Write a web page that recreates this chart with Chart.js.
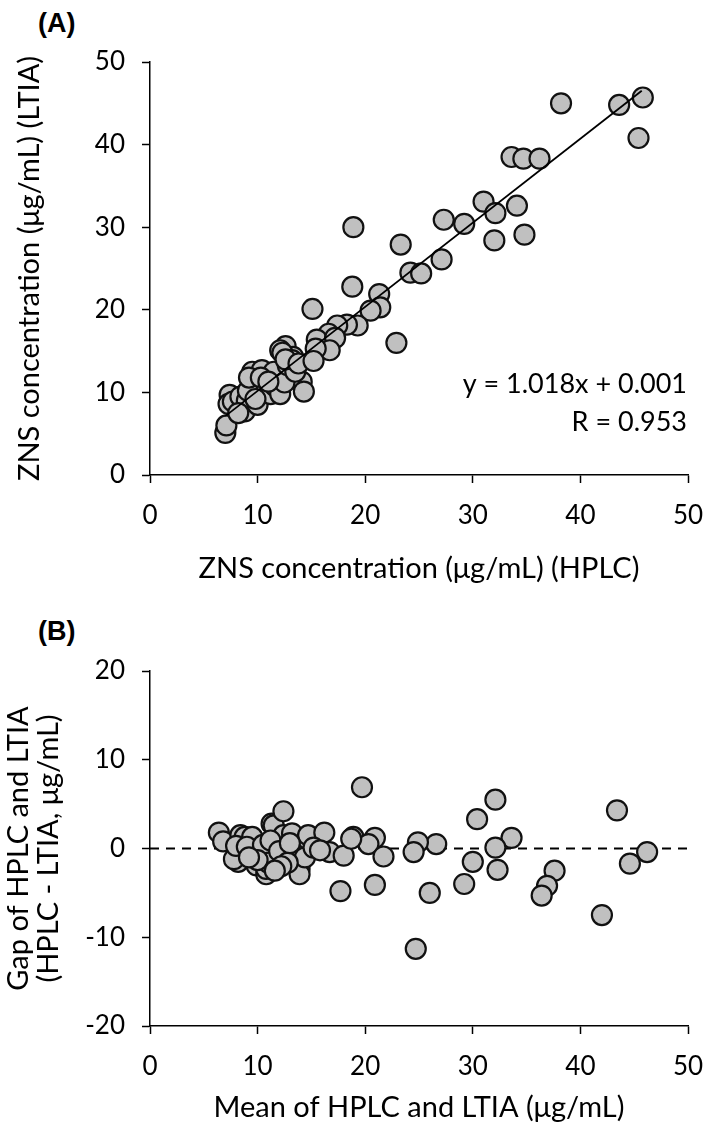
<!DOCTYPE html>
<html>
<head>
<meta charset="utf-8">
<script src="https://cdn.jsdelivr.net/npm/chart.js@4.4.0/dist/chart.umd.min.js"></script>
<style>
  body { margin: 0; background: #fff; width: 709px; height: 1133px; position: relative; overflow: hidden; }
  .panel { position: absolute; left: 0; width: 709px; }
  #wrapA { top: 0; height: 600px; }
  #wrapB { top: 600px; height: 533px; }
  .tag { position: absolute; left: 38px; font: bold 27px 'Liberation Sans Narrow', 'Liberation Sans', Arial, sans-serif; color: #000; }
</style>
</head>
<body>
<div class="tag" style="top:8px">(A)</div>
<div class="tag" style="top:616px">(B)</div>
<div class="panel" id="wrapA"><canvas id="chartA"></canvas></div>
<div class="panel" id="wrapB"><canvas id="chartB"></canvas></div>

<script>
// axis ticks
const xTicks = [0, 10, 20, 30, 40, 50];
const yTicksA = [0, 10, 20, 30, 40, 50];
const yTicksB = [-20, -10, 0, 10, 20];

// (A) ZNS by HPLC vs LTIA, ug/mL
const hplc = [45.8, 43.6, 38.2, 45.4, 33.6, 34.7, 36.2, 31.0, 32.1, 34.1,
              27.3, 29.2, 32.0, 34.8, 27.1, 18.9, 23.3, 24.2, 25.2, 18.8,
              21.3, 21.4, 20.5, 15.1, 19.3, 18.3, 17.4, 16.6, 15.5, 22.9,
              17.2, 16.7, 12.6, 12.1, 13.3, 15.4, 9.5, 10.4, 11.5, 13.0,
              14.1, 7.4, 9.5, 7.0, 7.1, 7.3, 7.7, 8.4, 8.8, 9.0,
              9.1, 9.2, 10.0, 10.3, 10.8, 11.2, 11.6, 12.1, 12.3, 12.5,
              12.8, 13.2, 13.5, 14.3, 8.2, 9.8, 12.6, 13.8, 15.2, 11.0];
const ltia = [45.7, 44.8, 45.0, 40.8, 38.5, 38.3, 38.3, 33.1, 31.7, 32.6,
              30.9, 30.4, 28.4, 29.1, 26.1, 30.0, 27.9, 24.5, 24.4, 22.8,
              21.9, 20.3, 19.9, 20.1, 18.1, 18.2, 18.1, 17.1, 16.4, 16.0,
              16.6, 15.1, 15.6, 15.1, 14.3, 15.3, 12.5, 12.7, 12.5, 11.7,
              11.3, 9.7, 10.5, 5.1, 6.0, 8.6, 8.9, 9.5, 7.7, 9.0,
              10.2, 11.8, 8.5, 11.8, 10.0, 9.8, 10.8, 9.8, 14.8, 11.2,
              13.3, 13.9, 12.5, 10.1, 7.5, 9.2, 14.0, 13.5, 13.8, 11.3];

// fitted line as printed on the chart
const fitSlope = 1.018;
const fitIntercept = 0.001;
const fitFrom = 7.0;
const fitTo = 45.7;
const fitLines = ['y = 1.018x + 0.001', 'R = 0.953'];

// (B) Bland-Altman: mean and gap (HPLC - LTIA)
const meanHL = [32.1, 30.4, 26.6, 33.6, 32.1, 30.0, 32.3, 29.2, 26.0, 37.6,
                36.9, 36.4, 43.4, 46.2, 44.6, 42.0, 19.7, 18.9, 20.9, 20.3,
                21.7, 24.9, 24.5, 20.9, 24.7, 17.7, 6.4, 6.8, 8.2, 8.4,
                8.8, 9.5, 9.6, 9.9, 10.8, 10.8, 11.3, 11.5, 11.9, 12.4,
                12.4, 13.2, 13.6, 13.9, 13.9, 14.4, 14.6, 14.7, 16.2, 16.7,
                18.0, 18.7, 7.8, 8.0, 9.0, 10.2, 10.5, 11.0, 11.2, 12.0,
                12.8, 13.0, 15.2, 15.8, 10.0, 9.2, 12.2, 11.6];
const gapHL = [5.5, 3.3, 0.5, 1.2, 0.1, -1.5, -2.4, -4.0, -5.0, -2.5,
               -4.2, -5.3, 4.3, -0.4, -1.7, -7.5, 6.9, 1.3, 1.2, 0.5,
               -0.9, 0.7, -0.4, -4.1, -11.3, -4.8, 1.8, 0.8, -1.5, 1.5,
               1.3, 1.3, -0.5, -1.9, -2.9, -2.3, 2.8, 2.6, -1.2, 4.2,
               1.5, 1.7, -0.6, -2.3, -2.9, -1.0, 1.1, 1.5, 1.8, -0.4,
               -0.8, 1.1, -1.2, 0.3, 0.2, -0.9, 0.4, -1.6, 0.9, -0.3,
               -1.6, 0.6, 0.1, -0.2, -1.3, -1.0, -2.0, -2.5];
const gapRef = 0;

const FONT = 'Lato, "Open Sans", sans-serif';
const TICK_SIZE = 26;
const TITLE_SIZE = 29;

const pointStyle = {
    pointRadius: 10,
    pointHoverRadius: 10,
    pointBackgroundColor: '#c0c0c0',
    pointBorderColor: '#111',
    pointBorderWidth: 2.2
};

function makeAxis(min, max, ticks, title, size, titlePad, lineH, horizontal) {
    return {
        type: 'linear',
        min: min,
        max: max,
        afterBuildTicks: s => { s.ticks = ticks.map(v => ({ value: v })); },
        afterFit: s => {
            if (horizontal) {
                s.height = size;
                // let the layout padding alone decide the side margins
                s.paddingLeft = 0;
                s.paddingRight = 0;
            } else {
                s.width = size;
            }
        },
        border: { display: true, color: '#000', width: 1.5 },
        grid: { drawOnChartArea: false, drawTicks: true, tickLength: 8, tickColor: '#000', tickWidth: 1.5 },
        ticks: { color: '#000', padding: 17, font: { family: FONT, size: TICK_SIZE } },
        title: {
            display: true,
            text: title,
            color: '#000',
            font: { family: FONT, size: TITLE_SIZE, lineHeight: lineH },
            padding: titlePad
        }
    };
}

// equation text in the lower right of panel A
const fitText = {
    id: 'fitText',
    afterDatasetsDraw(chart, args, opts) {
        const { ctx, chartArea } = chart;
        ctx.save();
        ctx.font = '27px ' + FONT;
        ctx.fillStyle = '#000';
        ctx.textAlign = 'right';
        ctx.textBaseline = 'middle';
        const n = opts.lines.length;
        opts.lines.forEach((t, i) => {
            ctx.fillText(t, chartArea.right - 1, chartArea.bottom - opts.bottomGap - (n - 1 - i) * opts.lineGap);
        });
        ctx.restore();
    }
};

const ptsA = hplc.map((x, i) => ({ x: x, y: ltia[i] }));
const fitPts = [fitFrom, fitTo].map(x => ({ x: x, y: fitSlope * x + fitIntercept }));

new Chart(document.getElementById('chartA'), {
    type: 'scatter',
    data: {
        datasets: [
            { data: fitPts, showLine: true, borderColor: '#000', borderWidth: 1.8, pointRadius: 0 },
            Object.assign({ data: ptsA }, pointStyle)
        ]
    },
    options: {
        responsive: true,
        maintainAspectRatio: false,
        animation: false,
        layout: { padding: { top: 62, right: 21, left: 0, bottom: 0 } },
        plugins: {
            legend: { display: false },
            tooltip: { enabled: false },
            fitText: { lines: fitLines, bottomGap: 53, lineGap: 38 }
        },
        scales: {
            x: makeAxis(0, 50, xTicks, 'ZNS concentration (μg/mL) (HPLC)', 125, { bottom: 15 }, 1.15, true),
            y: makeAxis(0, 50, yTicksA, 'ZNS concentration (μg/mL) (LTIA)', 150, { top: 13 }, 1.15, false)
        }
    },
    plugins: [fitText]
});

const ptsB = meanHL.map((x, i) => ({ x: x, y: gapHL[i] }));
const refPts = [xTicks[0], xTicks[xTicks.length - 1]].map(x => ({ x: x, y: gapRef }));

new Chart(document.getElementById('chartB'), {
    type: 'scatter',
    data: {
        datasets: [
            Object.assign({ data: ptsB }, pointStyle),
            { data: refPts, showLine: true, borderColor: '#000', borderWidth: 2, borderDash: [9, 7], pointRadius: 0 }
        ]
    },
    options: {
        responsive: true,
        maintainAspectRatio: false,
        animation: false,
        layout: { padding: { top: 71, right: 21, left: 0, bottom: 0 } },
        plugins: {
            legend: { display: false },
            tooltip: { enabled: false }
        },
        scales: {
            x: makeAxis(0, 50, xTicks, 'Mean of HPLC and LTIA (μg/mL)', 107, { bottom: 9 }, 1.15, true),
            y: makeAxis(-20, 20, yTicksB, ['Gap of HPLC and LTIA', '(HPLC - LTIA, μg/mL)'], 150, { top: 3 }, 1.05, false)
        }
    }
});
</script>
</body>
</html>
